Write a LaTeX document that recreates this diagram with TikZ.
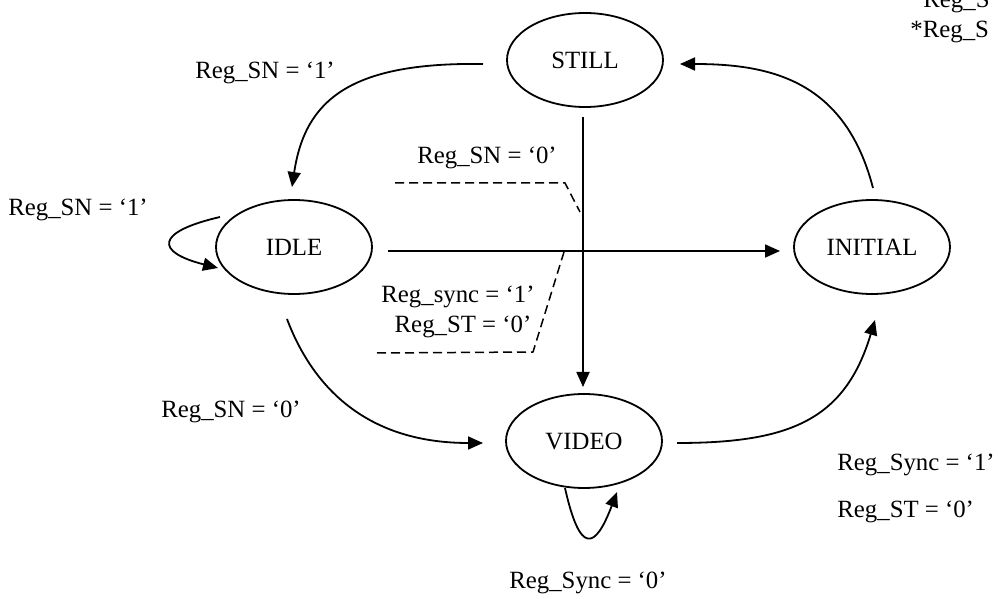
\documentclass[tikz,border=0pt]{standalone}
\usepackage{fontspec}
\setmainfont{Liberation Serif}
\usetikzlibrary{shapes.geometric,arrows.meta}
\begin{document}
\begin{tikzpicture}[x=0.5pt,y=-0.5pt,
  font=\fontsize{12.4}{14}\selectfont,
  state/.style={ellipse,draw,line width=0.9pt,minimum width=78pt,minimum height=47pt,inner sep=0pt,outer sep=0pt},
  arr/.style={line width=0.9pt,-{Triangle[length=7.5pt,width=6.5pt]}},
  dashline/.style={line width=0.75pt,dash pattern=on 4.5pt off 2.5pt},
  lbl/.style={inner sep=0pt}]
\useasboundingbox (0,0) rectangle (998,599);

\node[state] (still) at (585,60) {STILL};
\node[state] (idle) at (294,247) {IDLE};
\node[state] (initial) at (872,247) {INITIAL};
\node[state] (video) at (584,441) {VIDEO};

% STILL -> IDLE
\draw[arr] ([shift={(-102,4)}]still.center) .. controls (350,62) and (305,100) .. ([shift={(-2,-60)}]idle.center);
% IDLE self loop
\draw[arr] ([shift={(-74,-30)}]idle.center) .. controls (155,232) and (155,252) .. ([shift={(-76,21)}]idle.center);
% IDLE -> INITIAL
\draw[arr] ([shift={(94,4)}]idle.center) -- ([shift={(-92,4)}]initial.center);
% STILL -> VIDEO
\draw[arr] ([shift={(-2,57)}]still.center) -- ([shift={(-1,-54)}]video.center);
% IDLE -> VIDEO
\draw[arr] ([shift={(-7,72)}]idle.center) .. controls (310,380) and (360,443) .. ([shift={(-101,2)}]video.center);
% VIDEO self loop
\draw[arr] ([shift={(-19,47)}]video.center) .. controls (580,555) and (595,550) .. ([shift={(33,51)}]video.center);
% VIDEO -> INITIAL
\draw[arr] ([shift={(93,2)}]video.center) .. controls (790,443) and (845,420) .. ([shift={(3,73)}]initial.center);
% INITIAL -> STILL
\draw[arr] ([shift={(1,-59)}]initial.center) .. controls (845,80) and (770,64) .. ([shift={(95,4)}]still.center);

% dashed guides
\draw[dashline] (395,183) -- (565,183) -- (580,212);
\draw[dashline] (377,353) -- (533,352) -- (564,252);

% labels
\node[lbl] (l1) at (265,73) {Reg\_SN = ‘1’};
\node[lbl] (l2) at (78,210) {Reg\_SN = ‘1’};
\node[lbl] (l3) at (487,158) {Reg\_SN = ‘0’};
\node[lbl] (l4) at (458,297) {Reg\_sync = ‘1’};
\node[lbl] (l5) at (463,327) {Reg\_ST = ‘0’};
\node[lbl] (l6) at (231,412) {Reg\_SN = ‘0’};
\node[lbl,anchor=west] (l7) at (837,465) {Reg\_Sync = ‘1’};
\node[lbl,anchor=west] (l8) at (837,512) {Reg\_ST = ‘0’};
\node[lbl] (l9) at (588,583) {Reg\_Sync = ‘0’};
\node[lbl,anchor=base west] (l10) at (923,8) {Reg\_S};
\node[lbl,anchor=base west] (l11) at (910,38) {*Reg\_S};
\end{tikzpicture}
\end{document}
